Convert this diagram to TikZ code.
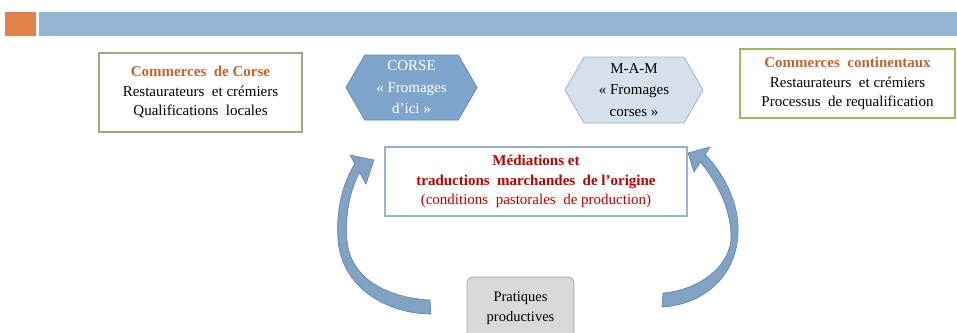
\documentclass[tikz,border=0pt]{standalone}
\usepackage{fontspec}
\setmainfont{Liberation Serif}
\usetikzlibrary{shapes.symbols}

\definecolor{barorange}{RGB}{224,130,74}
\definecolor{barblue}{RGB}{149,181,211}
\definecolor{titleorange}{RGB}{196,98,45}
\definecolor{olivebox}{RGB}{160,166,124}
\definecolor{greenbox}{RGB}{155,187,89}
\definecolor{hexdark}{RGB}{126,166,204}
\definecolor{hexdarkline}{RGB}{100,138,178}
\definecolor{hexlight}{RGB}{214,225,238}
\definecolor{hexlightline}{RGB}{160,178,202}
\definecolor{midline}{RGB}{149,179,215}
\definecolor{midred}{RGB}{192,0,0}
\definecolor{arrowfill}{RGB}{128,162,196}
\definecolor{arrowline}{RGB}{96,128,162}

\begin{document}
\begin{tikzpicture}[x=1pt,y=-1pt,
    textbox/.style={draw,line width=1.2pt,align=center,inner sep=0pt,
        font=\fontsize{15}{19.5}\selectfont},
    hexbox/.style={signal,signal to=east and west,signal pointer angle=120,
        draw,line width=0.8pt,align=center,inner sep=0pt,
        font=\fontsize{15}{21.5}\selectfont},
    curvearrow/.style={fill=arrowfill,draw=arrowline,line width=0.6pt}]
    \useasboundingbox (0,0) rectangle (957,332);

    % top bars
    \fill[barorange] (5,12) rectangle (36,36);
    \fill[barblue] (39,12) rectangle (957,36);

    % commerce boxes
    \node[textbox,draw=olivebox,minimum width=203pt,minimum height=79pt]
        (corsica) at (200.5,92.5)
        {\textcolor{titleorange}{\textbf{Commerces\ \ de Corse}}\\
         Restaurateurs\ \ et crémiers\\
         Qualifications\ \ locales};
    \node[textbox,draw=greenbox,line width=1.6pt,minimum width=215pt,minimum height=69pt]
        (mainland) at (847.5,83.5)
        {\textcolor{titleorange}{\textbf{Commerces\ \ continentaux}}\\
         Restaurateurs\ \ et crémiers\\
         Processus\ \ de requalification};

    % labels
    \node[hexbox,fill=hexdark,draw=hexdarkline,text=white,
        minimum width=131pt,minimum height=65pt] (corse) at (411.5,87.5)
        {CORSE\\« Fromages\\d'ici »};
    \node[hexbox,fill=hexlight,draw=hexlightline,
        minimum width=138pt,minimum height=66pt] (mam) at (634,90)
        {M-A-M\\« Fromages\\corses »};

    % mediations
    \node[textbox,draw=midline,text=midred,minimum width=302pt,minimum height=69pt]
        (mediation) at (536,181.5)
        {\textbf{Médiations et}\\
         \textbf{traductions\ \ marchandes\ \ de l'origine}\\
         (conditions\ \ pastorales\ \ de production)};

    % practices
    \node[draw=gray!70,fill=gray!30,line width=0.8pt,rounded corners=6pt,
        align=center,inner sep=0pt,minimum width=107pt,minimum height=63pt,
        font=\fontsize{14.5}{20}\selectfont] (practice) at (520.5,308.5)
        {Pratiques\\productives};

    % curved arrows
    \draw[curvearrow] (430,300) .. controls (390,298) and (350,280) .. (347,240)
        .. controls (345,215) and (350,190) .. (359.6,172.4)
        -- (366,184) -- (374,160) -- (350,155) -- (354.8,163.7)
        .. controls (342,185) and (336,210) .. (338,240)
        .. controls (342,290) and (390,314) .. (431,314) -- cycle;
    \draw[curvearrow] (663,293) .. controls (700,290) and (732,265) .. (731,235)
        .. controls (730,205) and (715,180) .. (700.4,162)
        -- (694,172) -- (688,153) -- (710,147) -- (705.2,154.5)
        .. controls (725,175) and (740,205) .. (738,235)
        .. controls (735,280) and (700,305) .. (662,307) -- cycle;
\end{tikzpicture}
\end{document}
